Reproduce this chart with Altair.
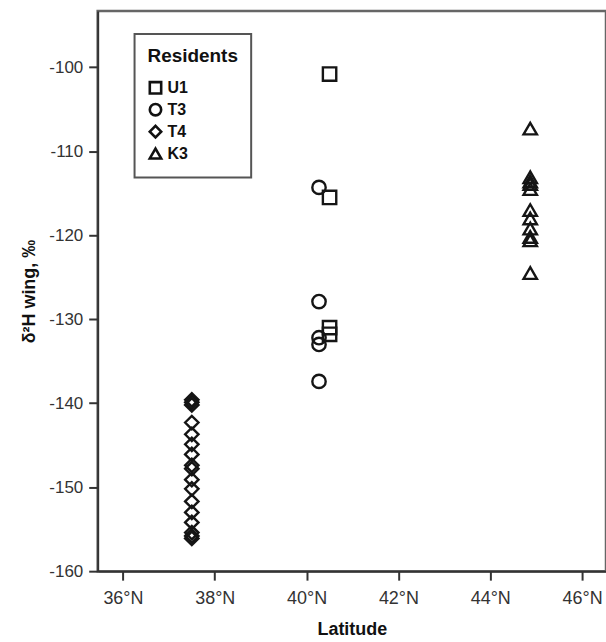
import altair as alt
import pandas as pd

groups = ["U1", "T3", "T4", "K3"]
shapes = ["square", "circle", "diamond", "triangle-up"]

u1_lat = 40.5
u1_vals = [-100.8, -115.5, -131.0, -131.8]
t3_lat = 40.27
t3_vals = [-114.3, -127.9, -132.2, -133.0, -137.4]
t4_lat = 37.5
t4_vals = [-139.6, -139.9, -140.2, -142.3, -143.7, -144.9, -146.1, -147.4,
           -147.8, -149.1, -150.2, -151.7, -153.0, -154.2, -155.4, -155.8, -156.1]
k3_lat = 44.87
k3_vals = [-107.3, -113.1, -113.6, -113.9, -114.5, -117.0, -118.0, -119.2,
           -120.2, -120.6, -124.5]

x_ticks = [36, 38, 40, 42, 44, 46]
y_ticks = [-160, -150, -140, -130, -120, -110, -100]

rows = []
for g, lat, vals in [("U1", u1_lat, u1_vals), ("T3", t3_lat, t3_vals),
                     ("T4", t4_lat, t4_vals), ("K3", k3_lat, k3_vals)]:
    for v in vals:
        rows.append({"group": g, "lat": lat, "d2h": v})
df = pd.DataFrame(rows)

FONT = "Liberation Sans"

chart = alt.Chart(df).mark_point(
    filled=False, strokeWidth=2.4, color="#151515", opacity=1, size=180
).encode(
    x=alt.X("lat:Q",
            scale=alt.Scale(domain=[35.45, 46.52], nice=False, zero=False),
            axis=alt.Axis(values=x_ticks, labelExpr="datum.value + '°N'",
                          title="Latitude", labelFontSize=18, labelPadding=9,
                          titlePadding=14)),
    y=alt.Y("d2h:Q",
            scale=alt.Scale(domain=[-160, -93.3], nice=False, zero=False),
            axis=alt.Axis(values=y_ticks, labelExpr="'-' + abs(datum.value)",
                          title="δ²H wing, ‰", titlePadding=10)),
    shape=alt.Shape("group:N",
                    scale=alt.Scale(domain=groups, range=shapes),
                    legend=alt.Legend(title="Residents", orient="none",
                                      legendX=37, legendY=23)),
).properties(
    width=510, height=562,
    padding={"left": 98, "top": 10, "right": 0, "bottom": 70},
    autosize="none",
).configure_view(
    stroke="#666", strokeWidth=2.5
).configure_axis(
    labelFont=FONT, labelFontSize=17, labelColor="#333",
    titleFont=FONT, titleFontWeight="bold", titleFontSize=18, titleColor="#111",
    domainColor="#333", domainWidth=2, tickColor="#333", tickWidth=2,
    tickSize=9, labelPadding=6, grid=False,
).configure_legend(
    strokeColor="#555", strokeWidth=2, padding=13,
    titleFont=FONT, titleFontSize=19, titleFontWeight="bold", titleColor="#111",
    titlePadding=14,
    labelFont=FONT, labelFontSize=16, labelFontWeight="bold", labelColor="#111",
    symbolSize=130, symbolStrokeWidth=2.6, symbolStrokeColor="#111",
    symbolFillColor="white", rowPadding=0, labelOffset=4,
)

chart.save("out.html", embed_options={"renderer": "svg", "actions": False})
